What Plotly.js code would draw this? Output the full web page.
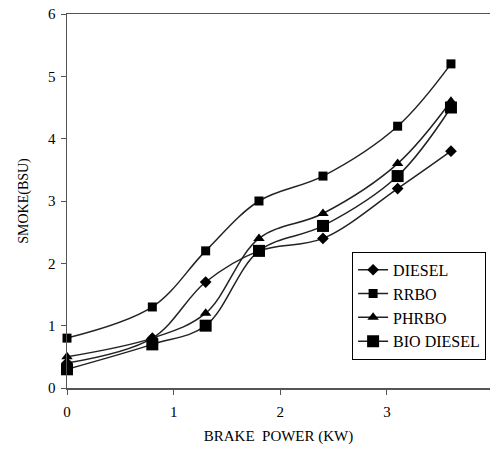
<!DOCTYPE html>
<html>
<head>
<meta charset="utf-8">
<script src="https://cdn.plot.ly/plotly-3.0.1.min.js"></script>
<style>html,body{margin:0;padding:0;background:#fff;}#chart{width:490px;height:450px;}</style>
</head>
<body>
<div id="chart"></div>
<script>
const brakePower = [0, 0.8, 1.3, 1.8, 2.4, 3.1, 3.6];
const diesel = [0.4, 0.8, 1.7, 2.2, 2.4, 3.2, 3.8];
const rrbo = [0.8, 1.3, 2.2, 3.0, 3.4, 4.2, 5.2];
const phrbo = [0.5, 0.8, 1.2, 2.4, 2.8, 3.6, 4.6];
const bioDiesel = [0.3, 0.7, 1.0, 2.2, 2.6, 3.4, 4.5];
const seriesNames = ['DIESEL', 'RRBO', 'PHRBO', 'BIO DIESEL'];

const lineStyle = {color: '#222', width: 1.5, shape: 'spline', smoothing: 1};
function tr(name, y, symbol, size) {
  return {x: brakePower, y: y, name: name, type: 'scatter', mode: 'lines+markers',
    line: lineStyle, marker: {symbol: symbol, size: size, color: '#000'}, cliponaxis: false};
}
const data = [
  tr(seriesNames[0], diesel, 'diamond', 9),
  tr(seriesNames[1], rrbo, 'square', 9),
  tr(seriesNames[2], phrbo, 'triangle-up', 10),
  tr(seriesNames[3], bioDiesel, 'square', 12)
];
const fam = '"Liberation Serif", "Times New Roman", serif';
const layout = {
  width: 490, height: 450,
  margin: {l: 67, r: 0, t: 14, b: 62},
  paper_bgcolor: '#fff', plot_bgcolor: '#fff',
  font: {family: fam, size: 15, color: '#000'},
  showlegend: true,
  legend: {x: 0.674, y: 0.364, xanchor: 'left', yanchor: 'top', bgcolor: '#fff',
    bordercolor: '#000', borderwidth: 1, font: {family: fam, size: 16, color: '#000'},
    tracegroupgap: 2, itemwidth: 30},
  xaxis: {range: [0, 3.966], tickvals: [0, 1, 2, 3], ticks: 'outside', ticklen: 5, tickcolor: '#555',
    showline: true, linecolor: '#555', linewidth: 1.5, mirror: true, showgrid: false, zeroline: false,
    ticklabelstandoff: 4,
    tickfont: {family: fam, size: 15, color: '#000'},
    title: {text: 'BRAKE&nbsp;&nbsp;POWER (KW)', font: {family: fam, size: 15, color: '#000'}, standoff: 12}},
  yaxis: {range: [0, 6], dtick: 1, ticks: 'outside', ticklen: 5, tickcolor: '#555',
    showline: true, linecolor: '#555', linewidth: 1.5, showgrid: false, zeroline: false,
    ticklabelstandoff: 2,
    tickfont: {family: fam, size: 15, color: '#000'},
    title: {text: 'SMOKE(BSU)', font: {family: fam, size: 14, color: '#000'}, standoff: 16}}
};
Plotly.newPlot('chart', data, layout, {staticPlot: true, displayModeBar: false});
</script>
</body>
</html>
